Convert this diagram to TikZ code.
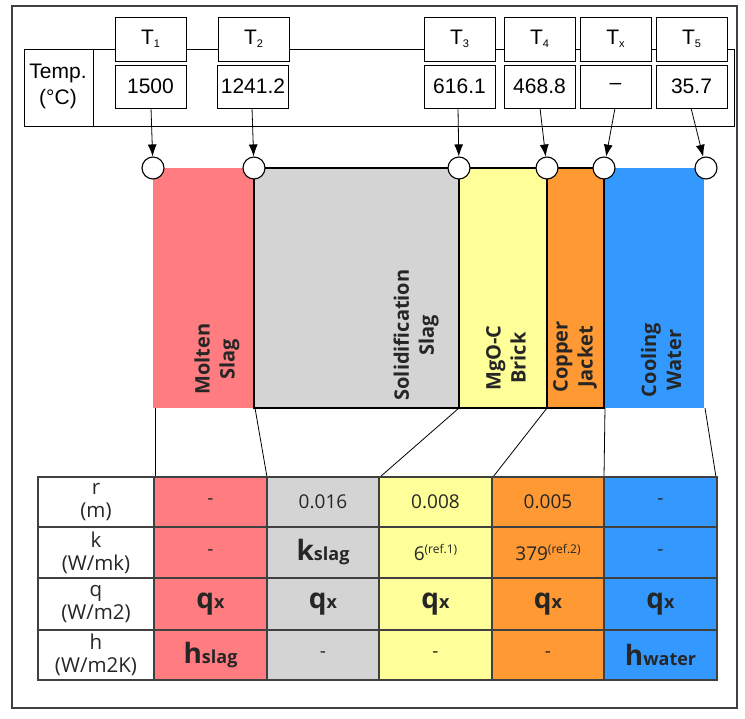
\documentclass[tikz,border=0pt]{standalone}
\usepackage{fontspec}
\setmainfont{Liberation Sans}
\newfontfamily\tabfont{Open Sans}
\usetikzlibrary{arrows.meta}
\definecolor{cpink}{HTML}{FF7C80}
\definecolor{cgrey}{HTML}{D4D4D4}
\definecolor{cyellow}{HTML}{FFFF99}
\definecolor{corange}{HTML}{FF9933}
\definecolor{cblue}{HTML}{3399FF}
\definecolor{tgrid}{HTML}{404040}
\definecolor{ttext}{HTML}{262626}
\newcommand{\bigsub}[2]{{\bfseries\fontsize{28}{28}\selectfont #1}{\bfseries\fontsize{18}{18}\selectfont #2}}
\newcommand{\refsup}[2]{#1\raisebox{7pt}{\fontsize{12}{12}\selectfont #2}}
\newcommand{\tsub}[1]{T{\fontsize{11}{11}\selectfont\raisebox{-3pt}{#1}}}
\begin{document}
\begin{tikzpicture}[x=1pt,y=-1pt,
  tbox/.style={draw=black, line width=0.9pt, fill=white, minimum width=71pt, minimum height=44pt, inner sep=0pt, font=\fontsize{21}{25}\selectfont},
  vbox/.style={tbox, minimum height=43pt},
  tnode/.style={circle, draw=black, line width=1.1pt, fill=white, minimum size=22pt, inner sep=0pt},
  layerlab/.style={rotate=90, align=center, inner sep=0pt, text=ttext, font=\tabfont\bfseries\fontsize{20}{25}\selectfont},
  cellt/.style={align=center, inner sep=0pt, text=ttext, font=\tabfont\fontsize{19}{23}\selectfont},
  rowlab/.style={cellt, font=\tabfont\fontsize{20.5}{23}\selectfont},
  arr/.style={-{Latex[length=12pt,width=9pt]}, line width=0.8pt},
  thin/.style={line width=0.8pt, black},
  layerline/.style={draw=black, line width=2pt}]
\useasboundingbox (0,0) rectangle (745,719);
% outer frame
\draw[tgrid, line width=1.3pt] (12,6) rectangle (737,708);
% temperature table
\draw[black, line width=0.9pt] (24,49) rectangle (734,126);
\draw[black, line width=0.9pt] (93,49) -- (93,126);
\node[font=\fontsize{21}{26}\selectfont, align=center] (templab) at (58,86) {Temp.\\(°C)};
\node[tbox] (t1) at (150.5,39) {\tsub{1}};
\node[tbox] (t2) at (253.5,39) {\tsub{2}};
\node[tbox] (t3) at (459.5,39) {\tsub{3}};
\node[tbox] (t4) at (539.5,39) {\tsub{4}};
\node[tbox] (tx) at (615.5,39) {\tsub{x}};
\node[tbox] (t5) at (691.5,39) {\tsub{5}};
\node[vbox] (v1) at (150.5,86.5) {1500};
\node[vbox] (v2) at (253,86.5) {1241.2};
\node[vbox] (v3) at (459.5,86.5) {616.1};
\node[vbox] (v4) at (539.5,86.5) {468.8};
\node[vbox] (vx) at (615.5,86.5) {--};
\node[vbox] (v5) at (691.5,86.5) {35.7};
% layers
\fill[cpink] (153,168) rectangle (254,408);
\fill[cblue] (604,168) rectangle (704,408);
\filldraw[fill=cgrey, layerline] (254,168) rectangle (459,408);
\filldraw[fill=cyellow, layerline] (459,168) rectangle (547,408);
\filldraw[fill=corange, layerline] (547,168) rectangle (604,408);
\node[layerlab] (lmolten) at (217,359) {Molten\\Slag};
\node[layerlab] (lsolid) at (416,335) {Solidification\\Slag};
\node[layerlab] (lbrick) at (506,358) {MgO-C\\Brick};
\node[layerlab] (lcopper) at (575,357) {Copper\\Jacket};
\node[layerlab] (lwater) at (661,360) {Cooling\\Water};
% temperature points
\node[tnode] (c1) at (153,168) {};
\node[tnode] (c2) at (254,168) {};
\node[tnode] (c3) at (459,168) {};
\node[tnode] (c4) at (547,168) {};
\node[tnode] (cx) at (604,168) {};
\node[tnode] (c5) at (706,168) {};
\coordinate (a1) at (151,108);
\coordinate (a2) at (252,108);
\coordinate (a3) at (458,108);
\coordinate (a4) at (540,108);
\coordinate (ax) at (615,108);
\coordinate (a5) at (691,108);
\draw[arr] (a1) -- (c1);
\draw[arr] (a2) -- (c2);
\draw[arr] (a3) -- (c3);
\draw[arr] (a4) -- (c4);
\draw[arr] (ax) -- (cx);
\draw[arr] (a5) -- (c5);
% connecting lines to table
\coordinate (l1) at (155,408); \coordinate (m1) at (155,477);
\coordinate (l2) at (255,408); \coordinate (m2) at (267,477);
\coordinate (l3) at (459,408); \coordinate (m3) at (380,477);
\coordinate (l4) at (547,408); \coordinate (m4) at (493,477);
\coordinate (l5) at (605,408); \coordinate (m5) at (604,477);
\coordinate (l6) at (705,408); \coordinate (m6) at (716,477);
\draw[thin] (l1) -- (m1);
\draw[thin] (l2) -- (m2);
\draw[thin] (l3) -- (m3);
\draw[thin] (l4) -- (m4);
\draw[thin] (l5) -- (m5);
\draw[thin] (l6) -- (m6);
% table
\fill[white] (38,477) rectangle (154,680);
\fill[cpink] (154,477) rectangle (267,680);
\fill[cgrey] (267,477) rectangle (379,680);
\fill[cyellow] (379,477) rectangle (492,680);
\fill[corange] (492,477) rectangle (604,680);
\fill[cblue] (604,477) rectangle (717,680);
\draw[tgrid, line width=1.4pt] (38,477) rectangle (717,680);
\foreach \yy in {527,578,630} \draw[tgrid, line width=1.4pt] (38,\yy) -- (717,\yy);
\foreach \xx in {154,267,379,492,604} \draw[tgrid, line width=1.4pt] (\xx,477) -- (\xx,680);
% row labels
\node[rowlab] (rr) at (96,502) {r\\(m)};
\node[rowlab] (rk) at (96,552.5) {k\\(W/mk)};
\node[rowlab] (rq) at (96,604) {q\\(W/m2)};
\node[rowlab] (rh) at (96,655) {h\\(W/m2K)};
% row r
\node[cellt] (r1) at (210.5,502) {-};
\node[cellt] (r2) at (323,502) {0.016};
\node[cellt] (r3) at (435.5,502) {0.008};
\node[cellt] (r4) at (548,502) {0.005};
\node[cellt] (r5) at (660.5,502) {-};
% row k
\node[cellt] (k1) at (210.5,552.5) {-};
\node[cellt] (k2) at (323,552.5) {\bigsub{k}{slag}};
\node[cellt] (k3) at (435.5,552.5) {\refsup{6}{(ref.1)}};
\node[cellt] (k4) at (548,552.5) {\refsup{379}{(ref.2)}};
\node[cellt] (k5) at (660.5,552.5) {-};
% row q
\node[cellt] (q1) at (210.5,604) {\bigsub{q}{x}};
\node[cellt] (q2) at (323,604) {\bigsub{q}{x}};
\node[cellt] (q3) at (435.5,604) {\bigsub{q}{x}};
\node[cellt] (q4) at (548,604) {\bigsub{q}{x}};
\node[cellt] (q5) at (660.5,604) {\bigsub{q}{x}};
% row h
\node[cellt] (h1) at (210.5,655) {\bigsub{h}{slag}};
\node[cellt] (h2) at (323,655) {-};
\node[cellt] (h3) at (435.5,655) {-};
\node[cellt] (h4) at (548,655) {-};
\node[cellt] (h5) at (660.5,655) {\bigsub{h}{water}};
\end{tikzpicture}
\end{document}
